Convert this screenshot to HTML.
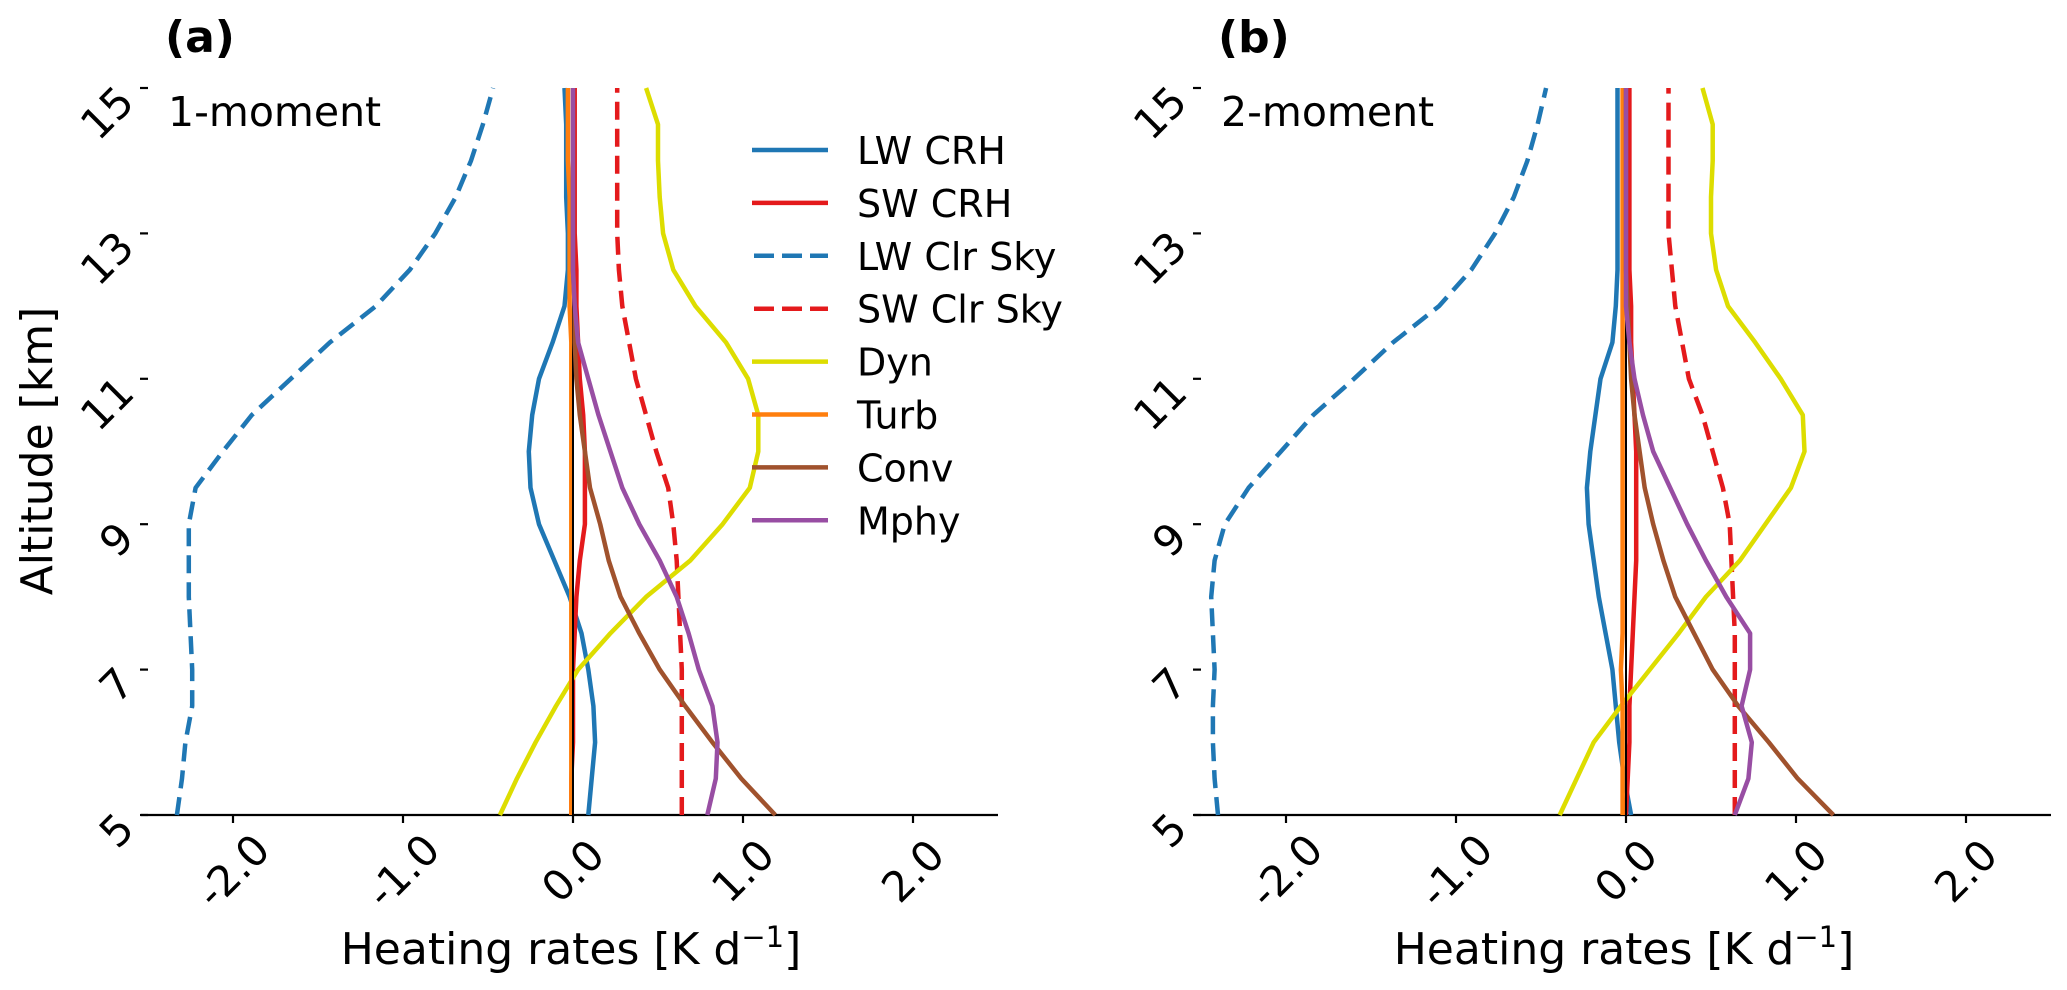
<!DOCTYPE html>
<html><head><meta charset="utf-8">
<style>
html,body{margin:0;padding:0;background:#fff;}
svg{display:block;font-family:"DejaVu Sans","Liberation Sans",sans-serif;}
</style></head>
<body>
<svg id="chart" width="2067" height="990" viewBox="0 0 2067 990" xmlns="http://www.w3.org/2000/svg"></svg>
<script>
const altitudes = [5,5.5,6,6.5,7,7.5,8,8.5,9,9.5,10,10.5,11,11.5,12,12.5,13,13.5,14,14.5,15];
const xTicks = [-2.0,-1.0,0.0,1.0,2.0];
const xTickLabels = ["-2.0","-1.0","0.0","1.0","2.0"];
const yTicks = [5,7,9,11,13,15];
const seriesNames = ["LW CRH","SW CRH","LW Clr Sky","SW Clr Sky","Dyn","Turb","Conv","Mphy"];

const lwCrhA = [0.09,0.11,0.13,0.12,0.09,0.05,-0.02,-0.11,-0.20,-0.25,-0.26,-0.24,-0.20,-0.12,-0.05,-0.03,-0.03,-0.04,-0.04,-0.04,-0.05];
const swCrhA = [-0.01,-0.01,0,0,0,0.01,0.02,0.04,0.07,0.07,0.07,0.06,0.04,0.03,0.02,0.02,0.01,0.01,0.01,0.01,0.01];
const lwClrA = [-2.33,-2.30,-2.28,-2.24,-2.24,-2.25,-2.26,-2.26,-2.26,-2.22,-2.06,-1.89,-1.66,-1.43,-1.16,-0.96,-0.81,-0.69,-0.60,-0.53,-0.47];
const swClrA = [0.64,0.64,0.64,0.64,0.64,0.63,0.62,0.61,0.59,0.56,0.49,0.43,0.37,0.33,0.29,0.27,0.26,0.26,0.26,0.26,0.26];
const dynA = [-0.43,-0.33,-0.22,-0.10,0.03,0.22,0.43,0.69,0.88,1.04,1.09,1.09,1.03,0.90,0.72,0.59,0.53,0.51,0.50,0.50,0.43];
const turbA = [-0.01,-0.01,-0.01,-0.01,-0.01,-0.01,-0.01,-0.01,-0.01,-0.01,-0.01,-0.01,-0.01,-0.01,-0.02,-0.02,-0.02,-0.02,-0.03,-0.03,-0.03];
const convA = [1.19,0.99,0.82,0.66,0.51,0.39,0.28,0.21,0.16,0.10,0.07,0.04,0.02,0.01,0.01,0,0,0,0,0,0];
const mphyA = [0.79,0.84,0.85,0.82,0.74,0.68,0.61,0.51,0.39,0.29,0.22,0.15,0.09,0.03,0.01,0,0,0,0,0,0];

const lwCrhB = [0.03,-0.01,-0.04,-0.06,-0.08,-0.12,-0.16,-0.19,-0.22,-0.23,-0.21,-0.18,-0.15,-0.08,-0.06,-0.05,-0.05,-0.05,-0.05,-0.05,-0.05];
const swCrhB = [0,0.01,0.02,0.02,0.03,0.04,0.05,0.06,0.06,0.06,0.06,0.05,0.04,0.03,0.03,0.02,0.02,0.02,0.02,0.02,0.02];
const lwClrB = [-2.40,-2.42,-2.43,-2.43,-2.42,-2.43,-2.44,-2.42,-2.36,-2.22,-2.03,-1.84,-1.60,-1.37,-1.10,-0.91,-0.77,-0.66,-0.58,-0.52,-0.47];
const swClrB = [0.64,0.64,0.64,0.64,0.64,0.64,0.63,0.62,0.61,0.57,0.51,0.45,0.37,0.33,0.29,0.27,0.25,0.25,0.25,0.25,0.25];
const dynB = [-0.39,-0.29,-0.19,-0.03,0.14,0.31,0.47,0.67,0.82,0.97,1.05,1.04,0.91,0.76,0.60,0.53,0.50,0.50,0.51,0.51,0.45];
const turbB = [-0.02,-0.02,-0.02,-0.02,-0.03,-0.02,-0.02,-0.02,-0.02,-0.02,-0.02,-0.02,-0.02,-0.02,-0.02,-0.02,-0.02,-0.02,-0.02,-0.02,-0.02];
const convB = [1.22,1.01,0.84,0.66,0.51,0.40,0.29,0.22,0.16,0.11,0.08,0.05,0.03,0.02,0.01,0,0,0,0,0,0];
const mphyB = [0.64,0.72,0.74,0.68,0.73,0.73,0.59,0.47,0.36,0.26,0.16,0.10,0.05,0.02,0,0,0,0,0,0,0];

const NS = "http://www.w3.org/2000/svg";
const svg = document.getElementById("chart");
function mk(tag, attrs, parent, text){
  const e = document.createElementNS(NS, tag);
  for (const k in attrs) e.setAttribute(k, attrs[k]);
  if (text !== undefined) e.textContent = text;
  (parent||svg).appendChild(e);
  return e;
}
const styles = [
  {c:"#1f77b4", d:null},{c:"#e41a1c", d:null},{c:"#1f77b4", d:"18 9"},{c:"#e41a1c", d:"18 9"},
  {c:"#dddd00", d:null},{c:"#ff7f0e", d:null},{c:"#a0522d", d:null},{c:"#984ea3", d:null}
];
const XMIN=-2.5, XMAX=2.5, YMIN=5, YMAX=15, TOP=88, BOT=815, W=850;

function panel(left, label, inset, data, withLegend, id){
  const g = mk("g", {}, svg);
  
  
  const xs = v => left + (v - XMIN) / (XMAX - XMIN) * W;
  const ys = v => BOT - (v - YMIN) / (YMAX - YMIN) * (BOT - TOP);
  const ax = mk("line", {x1:left-7, x2:left+W, y1:BOT, y2:BOT, stroke:"#000", "stroke-width":2.2}, g);
  
  
  xTicks.forEach((t,i)=>{
    const x = xs(t);
    const tk = mk("line", {x1:x, x2:x, y1:BOT, y2:BOT+8, stroke:"#000", "stroke-width":2.2}, g);
    
    
    const tl = mk("text", {x:x, y:BOT+56, "font-size":42, "text-anchor":"middle", "dominant-baseline":"central", transform:`rotate(-45 ${x} ${BOT+56})`}, g, xTickLabels[i]);
    
    
  });
  yTicks.forEach(t=>{
    const y = ys(t);
    const tk = mk("line", {x1:left-8, x2:left, y1:y, y2:y, stroke:"#000", "stroke-width":2.2}, g);
    
    
    const tl = mk("text", {x:left-22, y:y+6, "font-size":42, "text-anchor":"end", "dominant-baseline":"central", transform:`rotate(-45 ${left-22} ${y+6})`}, g, String(t));
    
    
  });
  const xl = mk("text", {x:left+W/2-2, y:964, "font-size":44, "text-anchor":"middle"}, g);
  
  
  mk("tspan", {}, xl, "Heating rates [K d");
  mk("tspan", {"font-size":29, dy:-17}, xl, "\u22121");
  mk("tspan", {dy:17}, xl, "]");
  const pl = mk("text", {x:left+17, y:52, "font-size":44, "font-weight":"bold"}, g, label);
  
  
  const il = mk("text", {x:left+20, y:126, "font-size":41}, g, inset);
  
  
  data.forEach((arr, si)=>{
    const pts = arr.map((v,i)=> xs(v).toFixed(1)+","+ys(altitudes[i]).toFixed(1)).join(" ");
    const p = mk("polyline", {points:pts, fill:"none", stroke:styles[si].c, "stroke-width":4.5, "stroke-linejoin":"round", "stroke-linecap":"butt"}, g);
    if (styles[si].d) p.setAttribute("stroke-dasharray", styles[si].d);
    
    
    if (si === 5) {
      const zl = mk("line", {x1:xs(0), x2:xs(0), y1:ys(YMIN), y2:ys(YMAX), stroke:"#000", "stroke-width":2}, g);
      
      
    }
  });
  if (withLegend){
    const lg = mk("g", {}, g);
    
    
    seriesNames.forEach((n,i)=>{
      const y = 150 + i*52.9;
      const l = mk("line", {x1:752, x2:828, y1:y, y2:y, stroke:styles[i].c, "stroke-width":4.5}, lg);
      if (styles[i].d) { l.setAttribute("stroke-dasharray", "20 8"); l.setAttribute("x1", 754); }
      
      
      const t = mk("text", {x:857, y:y+14, "font-size":38}, lg, n);
      
      
    });
  }
}
panel(148, "(a)", "1-moment", [lwCrhA, swCrhA, lwClrA, swClrA, dynA, turbA, convA, mphyA], true, "a");
panel(1201, "(b)", "2-moment", [lwCrhB, swCrhB, lwClrB, swClrB, dynB, turbB, convB, mphyB], false, "b");
const yl = mk("text", {x:52, y:451, "font-size":44, "text-anchor":"middle", transform:"rotate(-90 52 451)"}, svg, "Altitude [km]");


</script>
</body></html>
